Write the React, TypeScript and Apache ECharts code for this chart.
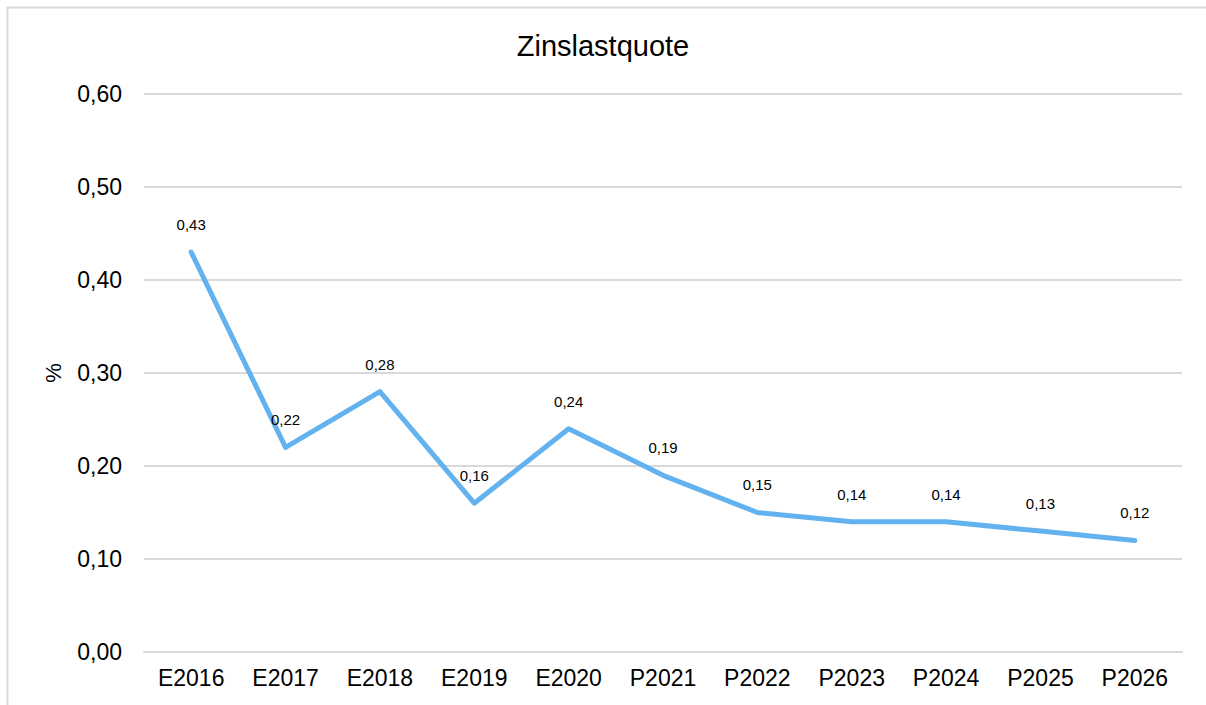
import React, { useEffect, useRef } from "react";
import * as echarts from "echarts";

const categories = ["E2016", "E2017", "E2018", "E2019", "E2020", "P2021", "P2022", "P2023", "P2024", "P2025", "P2026"];
const values = [0.43, 0.22, 0.28, 0.16, 0.24, 0.19, 0.15, 0.14, 0.14, 0.13, 0.12];
const title = "Zinslastquote";
const yName = "%";

const FONT = "'Liberation Sans', Arial, sans-serif";
const fmt = (v: number) => v.toFixed(2).replace(".", ",");

export default function App() {
  const ref = useRef<HTMLDivElement>(null);
  useEffect(() => {
    if (!ref.current) return;
    const chart = echarts.init(ref.current, undefined, { renderer: "svg" });
    chart.setOption({
      animation: false,
      backgroundColor: "#ffffff",
      textStyle: { fontFamily: FONT },
      title: {
        text: title,
        left: "center",
        top: 26,
        textStyle: { fontFamily: FONT, fontSize: 29, fontWeight: "normal", color: "#000" },
      },
      graphic: [
        {
          type: "rect",
          shape: { x: 7.5, y: 7.5, width: 1220, height: 720 },
          style: { fill: "none", stroke: "#d9d9d9", lineWidth: 2 },
          silent: true,
        },
      ],
      grid: { left: 144, right: 24, top: 94, bottom: 53 },
      xAxis: {
        type: "category",
        data: categories,
        boundaryGap: true,
        axisLine: { show: true, lineStyle: { color: "#d9d9d9", width: 2 } },
        axisTick: { show: false },
        axisLabel: { color: "#000", fontSize: 23, fontFamily: FONT, margin: 14, interval: 0 },
      },
      yAxis: {
        type: "value",
        min: 0,
        max: 0.6,
        interval: 0.1,
        name: yName,
        nameLocation: "middle",
        nameRotate: 90,
        nameGap: 80,
        nameTextStyle: { color: "#000", fontSize: 22, fontFamily: FONT },
        axisLine: { show: false },
        axisTick: { show: false },
        axisLabel: { color: "#000", fontSize: 23, fontFamily: FONT, margin: 22, formatter: (v: number) => fmt(v) },
        splitLine: { show: true, lineStyle: { color: "#d9d9d9", width: 2 } },
      },
      series: [
        {
          type: "line",
          data: values,
          showSymbol: true,
          symbol: "circle",
          symbolSize: 0.1,
          itemStyle: { color: "#63b2f0" },
          lineStyle: { color: "#63b2f0", width: 5, cap: "round", join: "round" },
          label: {
            show: true,
            position: "top",
            distance: 20,
            color: "#000",
            fontSize: 15,
            fontFamily: FONT,
            formatter: (p: any) => fmt(p.value),
          },
        },
      ],
    });
    return () => chart.dispose();
  }, []);
  return (
    <div style={{ position: "absolute", left: 0, top: 0, width: 1206, height: 705 }}>
      <div ref={ref} style={{ width: 1206, height: 705 }} />
    </div>
  );
}
